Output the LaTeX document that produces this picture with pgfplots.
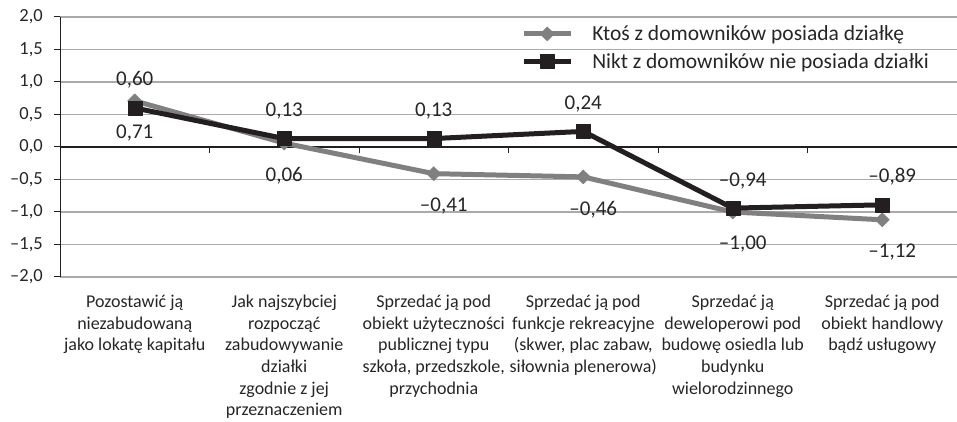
\documentclass[border=0pt]{standalone}
\usepackage{fontspec}
\setmainfont{Carlito}
\usepackage{pgfplots}
\pgfplotsset{compat=1.18}
\usepackage{pgfplotstable}
\definecolor{sergray}{RGB}{128,128,128}
\definecolor{serblack}{RGB}{35,31,32}
\definecolor{gridgray}{RGB}{170,170,170}
\definecolor{txt}{RGB}{38,38,38}

\pgfplotstableread{
x y lab dx
0 0.71 0,71 0
1 0.06 0,06 0
2 -0.41 –0,41 10
3 -0.46 –0,46 10
4 -1.00 –1,00 10
5 -1.12 –1,12 10
}\graydata

\pgfplotstableread{
x y lab dx
0 0.60 0,60 0
1 0.13 0,13 0
2 0.13 0,13 0
3 0.24 0,24 0
4 -0.94 –0,94 10
5 -0.89 –0,89 10
}\blackdata

\begin{document}
\begin{tikzpicture}
\begin{axis}[
  name=ax, scale only axis, width=897pt, height=260pt,
  xmin=-0.5, xmax=5.5, ymin=-2, ymax=2,
  axis x line=bottom, axis y line=left, axis line style={-},
  x axis line style={draw=none},
  y axis line style={serblack, line width=1pt},
  xtick={0,1,2,3,4,5},
  xticklabels={
    {Pozostawić ją\\niezabudowaną\\jako lokatę kapitału},
    {Jak najszybciej\\rozpocząć\\zabudowywanie\\działki\\zgodnie z jej\\przeznaczeniem},
    {Sprzedać ją pod\\obiekt użyteczności\\publicznej typu\\szkoła, przedszkole,\\przychodnia},
    {Sprzedać ją pod\\funkcje rekreacyjne\\(skwer, plac zabaw,\\siłownia plenerowa)},
    {Sprzedać ją\\deweloperowi pod\\budowę osiedla lub\\budynku\\wielorodzinnego},
    {Sprzedać ją pod\\obiekt handlowy\\bądź usługowy}},
  xtick style={draw=none}, ytick style={draw=none},
  major tick length=0pt,
  ytick={-2,-1.5,-1,-0.5,0,0.5,1,1.5,2},
  yticklabels={{–2,0},{–1,5},{–1,0},{–0,5},{0,0},{0,5},{1,0},{1,5},{2,0}},
  ymajorgrids, grid style={gridgray, line width=1.2pt},
  yticklabel style={font=\fontsize{18.5}{20}\selectfont, text=txt, anchor=east, inner sep=0pt, xshift=-17pt},
  xticklabel style={font=\fontsize{18}{21.6}\selectfont, text=txt, align=center, anchor=north, inner sep=0pt, yshift=-18pt},
  legend style={at={(rel axis cs:0.514,0.975)}, anchor=north west, draw=none, fill=none,
    font=\fontsize{21.5}{24}\selectfont, text=txt, row sep=7pt, inner sep=0pt, cells={anchor=west},
    /tikz/every odd column/.append style={column sep=17pt}},
  legend image code/.code={\draw[#1,mark repeat=2,mark phase=2] plot coordinates {(0pt,0pt) (23.5pt,0pt) (47pt,0pt)};},
  clip=false,
]
\draw[serblack, line width=1.2pt] (axis cs:-0.5,0) -- (axis cs:5.5,0);
\pgfplotsinvokeforeach{0.5,1.5,2.5,3.5,4.5}{
  \draw[serblack, line width=1pt] (axis cs:#1,0) -- ++(0pt,-6pt);
}
\pgfplotsinvokeforeach{-2,-1.5,-1,-0.5,0,0.5,1,1.5,2}{
  \draw[serblack, line width=1pt] (axis cs:-0.5,#1) -- ++(-6pt,0pt);
}
\addplot[color=sergray, line width=5pt, line join=round,
  mark=diamond*, mark size=7pt, mark options={solid, xscale=1.35, line width=0.5pt, fill=sergray},
  nodes near coords, point meta=explicit symbolic,
  visualization depends on={\thisrow{dx}\as\dx},
  nodes near coords style={anchor=north, yshift=-24pt, xshift=\dx pt, inner sep=0pt, text=txt, font=\fontsize{21}{22}\selectfont}]
  table[x=x, y=y, meta=lab]{\graydata};
\addlegendentry{Ktoś z domowników posiada działkę}
\addplot[color=serblack, line width=5pt, line join=round,
  mark=square*, mark size=7pt, mark options={solid, line width=0.5pt, fill=serblack},
  nodes near coords, point meta=explicit symbolic,
  visualization depends on={\thisrow{dx}\as\dx},
  nodes near coords style={anchor=base, yshift=22pt, xshift=\dx pt, inner sep=0pt, text=txt, font=\fontsize{21}{22}\selectfont}]
  table[x=x, y=y, meta=lab]{\blackdata};
\addlegendentry{Nikt z domowników nie posiada działki}
\end{axis}
\pgfresetboundingbox
\path ([xshift=-60pt,yshift=-145pt]ax.south west) rectangle ([yshift=17pt]ax.north east);
\end{tikzpicture}
\end{document}
